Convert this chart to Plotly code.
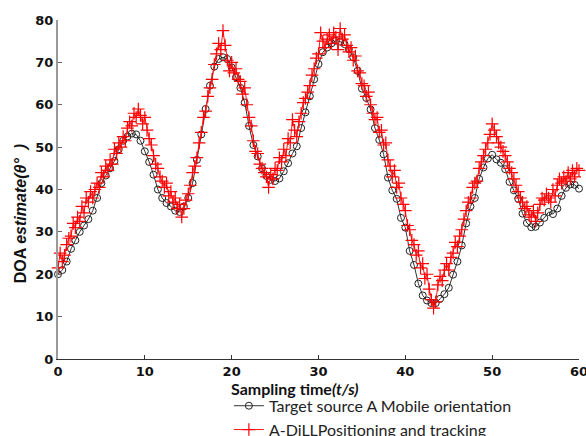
import plotly.graph_objects as go

# Sampling times (s)
t_target = [0, 0.5, 1, 1.5, 2, 2.5, 3, 3.5, 4, 4.5, 5, 5.5, 6, 6.5, 7, 7.5, 8, 8.5, 9, 9.5,
            10, 10.5, 11, 11.5, 12, 12.5, 13, 13.5, 14, 14.5, 15, 15.5, 16, 16.5, 17, 17.5, 18, 18.5, 19, 19.5,
            20, 20.5, 21, 21.5, 22, 22.5, 23, 23.5, 24, 24.5, 25, 25.5, 26, 26.5, 27, 27.5, 28, 28.5, 29, 29.5,
            30, 30.5, 31, 31.5, 32, 32.5, 33, 33.5, 34, 34.5, 35, 35.5, 36, 36.5, 37, 37.5, 38, 38.5, 39, 39.5,
            40, 40.5, 41, 41.5, 42, 42.5, 43, 43.5, 44, 44.5, 45, 45.5, 46, 46.5, 47, 47.5, 48, 48.5, 49, 49.5,
            50, 50.5, 51, 51.5, 52, 52.5, 53, 53.5, 54, 54.5, 55, 55.5, 56, 56.5, 57, 57.5, 58, 58.5, 59, 59.5, 60]

doa_target = [20, 21, 23, 26, 28, 30, 31.5, 33, 35, 38, 41.5, 43.3, 45, 46.7, 49.5, 51.5, 52.5, 53.2, 53, 51.5,
              49, 46.5, 43.5, 40, 38, 36.8, 36, 35, 34.7, 36, 38, 41.5, 47, 53, 59, 64.5, 69, 70.8, 71.2, 70.8,
              68.8, 66.5, 64, 60.5, 55, 50.5, 47.8, 45, 43.2, 42.3, 42, 42.6, 44.3, 46.2, 48.5, 50.2, 54.5, 58.2, 62, 66,
              69.6, 72.4, 73.5, 74.5, 75.1, 74.9, 74.3, 73.1, 71.2, 68, 63.8, 61.6, 58.9, 54.5, 51.7, 48.3, 42.8, 39.8, 37.8, 33.3,
              31, 25.5, 22.2, 17.8, 15, 13.8, 13.2, 13.2, 14.2, 15.3, 16.8, 19.9, 23, 26.8, 32, 36, 38, 42.5, 45.2, 47.3,
              48.2, 47.1, 46.3, 44.8, 41.8, 39.8, 37.8, 34.3, 32.1, 31.1, 31.2, 32.2, 33.3, 34.7, 34.2, 35.5, 38.5, 40.4, 41.2, 41.1, 40.2]

t_estimate = [0, 0.25, 0.5, 0.75, 1, 1.25, 1.5, 1.75, 2, 2.25, 2.5, 2.75, 3, 3.25, 3.5, 3.75, 4, 4.25, 4.5, 4.75,
              5, 5.25, 5.5, 5.75, 6, 6.25, 6.5, 6.75, 7, 7.25, 7.5, 7.75, 8, 8.25, 8.5, 8.75, 9, 9.25, 9.5, 9.75,
              10, 10.25, 10.5, 10.75, 11, 11.25, 11.5, 11.75, 12, 12.25, 12.5, 12.75, 13, 13.25, 13.5, 13.75, 14, 14.25, 14.5, 14.75,
              15, 15.25, 15.5, 15.75, 16, 16.25, 16.5, 16.75, 17, 17.25, 17.5, 17.75, 18, 18.25, 18.5, 18.75, 19, 19.25, 19.5, 19.75,
              20, 20.25, 20.5, 20.75, 21, 21.25, 21.5, 21.75, 22, 22.25, 22.5, 22.75, 23, 23.25, 23.5, 23.75, 24, 24.25, 24.5, 24.75,
              25, 25.25, 25.5, 25.75, 26, 26.25, 26.5, 26.75, 27, 27.25, 27.5, 27.75, 28, 28.25, 28.5, 28.75, 29, 29.25, 29.5, 29.75,
              30, 30.25, 30.5, 30.75, 31, 31.25, 31.5, 31.75, 32, 32.25, 32.5, 32.75, 33, 33.25, 33.5, 33.75, 34, 34.25, 34.5, 34.75,
              35, 35.25, 35.5, 35.75, 36, 36.25, 36.5, 36.75, 37, 37.25, 37.5, 37.75, 38, 38.25, 38.5, 38.75, 39, 39.25, 39.5, 39.75,
              40, 40.25, 40.5, 40.75, 41, 41.25, 41.5, 41.75, 42, 42.25, 42.5, 42.75, 43, 43.25, 43.5, 43.75, 44, 44.25, 44.5, 44.75,
              45, 45.25, 45.5, 45.75, 46, 46.25, 46.5, 46.75, 47, 47.25, 47.5, 47.75, 48, 48.25, 48.5, 48.75, 49, 49.25, 49.5, 49.75,
              50, 50.25, 50.5, 50.75, 51, 51.25, 51.5, 51.75, 52, 52.25, 52.5, 52.75, 53, 53.25, 53.5, 53.75, 54, 54.25, 54.5, 54.75,
              55, 55.25, 55.5, 55.75, 56, 56.25, 56.5, 56.75, 57, 57.25, 57.5, 57.75, 58, 58.25, 58.5, 58.75, 59, 59.25, 59.5, 59.75, 60]

doa_estimate = [21.5, 25, 23, 24.5, 27, 28.5, 29, 32, 31, 33.5, 32.5, 36, 34.5, 38, 37, 39.5, 38, 40, 41.5, 40.5,
                44, 43, 45.5, 44.5, 47, 46, 49.5, 48.5, 51, 50, 52.5, 51.5, 54.5, 56, 55, 58, 57, 59, 57.5, 55.5,
                57, 54, 52, 50.5, 48, 46, 45, 43, 42, 40.5, 41.5, 38.5, 39.5, 37, 38, 35.5, 36.5, 33.5, 35.5, 37.5,
                39, 41, 44, 45.5, 47.5, 51, 53.5, 57, 58.5, 62, 64, 66, 69.5, 72, 74.5, 73, 77.5, 74, 70.5, 68,
                70, 67.5, 68.5, 66, 65.5, 62.5, 64, 60, 57, 55, 51.5, 49, 48.5, 46, 45, 44, 43, 40.5, 43.5, 42.5,
                45, 44.5, 47.5, 46.5, 49.5, 48, 52, 51, 56.5, 54, 52.5, 56, 58, 60.5, 61.5, 63, 64.5, 67, 68.5, 71,
                72, 77, 75, 73.5, 75.5, 76.5, 74.5, 77, 76, 73, 78, 75.5, 76.5, 74, 72.5, 73.5, 70.5, 71.5, 68, 67.5,
                65, 64.5, 62, 63, 60, 58, 56.5, 57, 53.5, 54, 50.5, 51, 47, 45.5, 43, 44.5, 40.5, 41.5, 38, 36.5,
                35, 31.5, 30.5, 28, 27, 24.5, 25.5, 21.5, 22.5, 19, 20, 16.5, 14, 12, 13.5, 17.5, 19.5, 18.5, 21, 22.5,
                21, 24, 25, 27.5, 26.5, 29, 30.5, 33, 35, 37, 38, 40.5, 41.5, 42, 45, 46.5, 48, 49.5, 51, 53,
                55.5, 54, 52.5, 51, 50, 49, 48, 46.5, 45, 44, 42.5, 41, 39.5, 38, 37, 35.5, 36, 34, 33.5, 35,
                32.5, 34.5, 36.5, 38, 37.5, 39, 38, 37, 40, 38.5, 41, 42.5, 41.5, 43, 42, 44, 42.5, 44.5, 43, 45, 44.5]

x_ticks = [0, 10, 20, 30, 40, 50, 60]
y_ticks = [0, 10, 20, 30, 40, 50, 60, 70, 80]

fig = go.Figure()
fig.add_trace(go.Scatter(
    x=t_target, y=doa_target, mode="lines+markers",
    name="Target source A Mobile orientation",
    line=dict(color="#333333", width=1),
    marker=dict(symbol="circle-open", size=7, color="#222222", line=dict(width=1)),
    cliponaxis=False,
))
fig.add_trace(go.Scatter(
    x=t_estimate, y=doa_estimate, mode="lines+markers",
    name="A-DiLLPositioning and tracking",
    line=dict(color="#ff1a1a", width=1),
    marker=dict(symbol="cross-thin", size=9, color="#ff0000", line=dict(width=1.2, color="#ff0000")),
    cliponaxis=False,
))

tickfont = dict(family="DejaVu Sans", size=13, color="#111111", weight="bold")
fig.update_xaxes(range=[0, 60], tickvals=x_ticks, ticks="inside", ticklen=4, tickcolor="#333333",
                 showline=True, linecolor="#333333", linewidth=1, showgrid=False, zeroline=False,
                 tickfont=tickfont, ticklabeloverflow="allow")
fig.update_yaxes(range=[0, 80], tickvals=y_ticks, ticks="inside", ticklen=4, tickcolor="#666666",
                 showline=True, linecolor="#9a9a9a", linewidth=2, showgrid=False, zeroline=False,
                 tickfont=tickfont, ticklabeloverflow="allow")

fig.add_annotation(text="<b>Sampling time<i>(t/s)</i></b>", xref="paper", yref="paper",
                   x=0.455, y=-0.087, showarrow=False, xanchor="center", yanchor="middle",
                   font=dict(family="Lato", size=16, color="#111111"))
fig.add_annotation(text="<b>DOA <i>estimate(θ°  )</i></b>", xref="paper", yref="paper",
                   x=-0.073, y=0.43, showarrow=False, textangle=-90, xanchor="center", yanchor="middle",
                   font=dict(family="Liberation Sans", size=16, color="#111111"))

fig.update_layout(
    width=586, height=436,
    margin=dict(l=58, r=7, t=20, b=77, autoexpand=False),
    paper_bgcolor="white", plot_bgcolor="white",
    showlegend=True,
    legend=dict(x=0.328, y=-0.088, xanchor="left", yanchor="top", bgcolor="rgba(0,0,0,0)",
                font=dict(family="Lato", size=16, color="#222222"), tracegroupgap=0,
                itemwidth=30),
)

# Remove the default page margin so the 586x436 figure fills the window exactly.
fig.write_html("out.html", config={"displayModeBar": False},
               post_script="document.body.style.margin='0';document.body.style.overflow='hidden';")
